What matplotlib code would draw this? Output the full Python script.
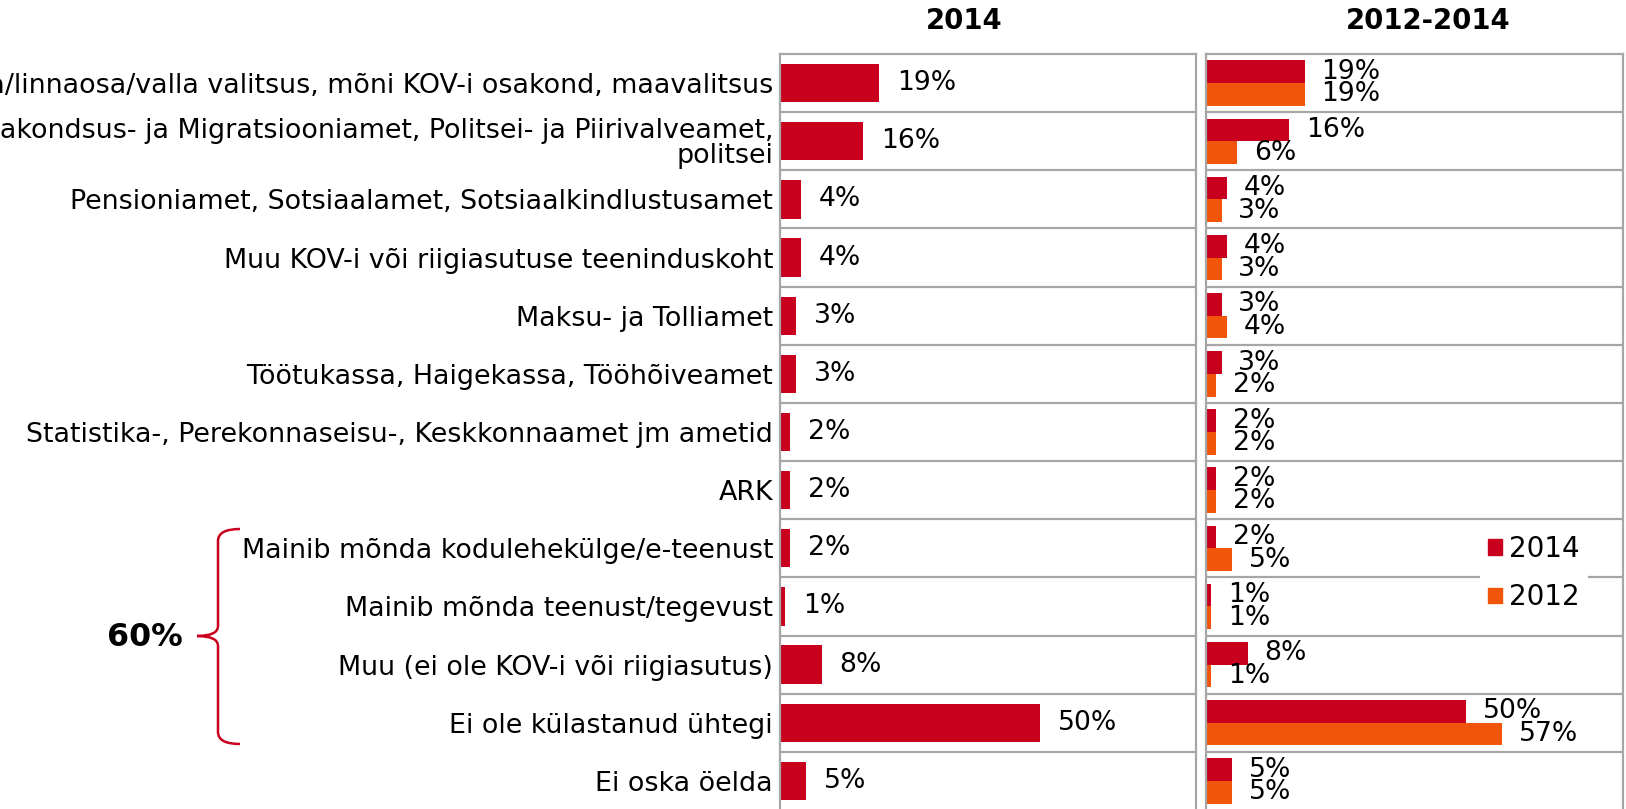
import matplotlib
matplotlib.use("Agg")
import matplotlib.pyplot as plt
from matplotlib.patches import Patch, PathPatch
from matplotlib.path import Path

plt.rcParams['font.family'] = ['DejaVu Sans']

categories = [
    "Linna/linnaosa/valla valitsus, mõni KOV-i osakond, maavalitsus",
    "Kodakondsus- ja Migratsiooniamet, Politsei- ja Piirivalveamet,\npolitsei",
    "Pensioniamet, Sotsiaalamet, Sotsiaalkindlustusamet",
    "Muu KOV-i või riigiasutuse teeninduskoht",
    "Maksu- ja Tolliamet",
    "Töötukassa, Haigekassa, Tööhõiveamet",
    "Statistika-, Perekonnaseisu-, Keskkonnaamet jm ametid",
    "ARK",
    "Mainib mõnda kodulehekülge/e-teenust",
    "Mainib mõnda teenust/tegevust",
    "Muu (ei ole KOV-i või riigiasutus)",
    "Ei ole külastanud ühtegi",
    "Ei oska öelda",
]
values_2014 = [19, 16, 4, 4, 3, 3, 2, 2, 2, 1, 8, 50, 5]
values_2012 = [19, 6, 3, 3, 4, 2, 2, 2, 5, 1, 1, 57, 5]
panel_titles = ["2014", "2012-2014"]
series_names = ["2014", "2012"]
bracket_label = "60%"

RED = "#C8001E"
ORANGE = "#F0550A"
GRID = "#A6A6A6"

W, H = 1626, 809
fig = plt.figure(figsize=(W / 100, H / 100), dpi=100)

def fx(px):
    return px / W

def fy(py):
    return 1 - py / H

top_px, bot_px = 54, 810
ax1 = fig.add_axes([fx(780), fy(bot_px), fx(1196) - fx(780), fy(top_px) - fy(bot_px)])
ax2 = fig.add_axes([fx(1206), fy(bot_px), fx(1623) - fx(1206), fy(top_px) - fy(bot_px)])

n = len(categories)
ys = list(range(n))

for ax in (ax1, ax2):
    ax.set_ylim(n - 0.5, -0.5)
    ax.set_xticks([])
    for s in ax.spines.values():
        s.set_color(GRID)
        s.set_linewidth(1.6)
    ax.spines['bottom'].set_visible(False)
    for i in range(n - 1):
        ax.axhline(i + 0.5, color=GRID, lw=1.6, zorder=0)

ax1.set_xlim(0, 416 / 5.2)
ax2.set_xlim(0, 417 / 5.2)

VAL_FS = 19.2

# left panel
b1 = ax1.barh(ys, values_2014, height=0.66, color=RED, zorder=2)
ax1.bar_label(b1, labels=[f"{v}%" for v in values_2014], padding=13, fontsize=VAL_FS)
ax1.set_yticks(ys)
ax1.set_yticklabels(categories, fontsize=19.4)
ax1.tick_params(axis='y', length=0, pad=5)
for t in ax1.get_yticklabels():
    t.set_linespacing(0.95)

# right panel
ys_a = [y - 0.195 for y in ys]
ys_b = [y + 0.195 for y in ys]
b2a = ax2.barh(ys_a, values_2014, height=0.39, color=RED, zorder=2)
b2b = ax2.barh(ys_b, values_2012, height=0.39, color=ORANGE, zorder=2)
ax2.bar_label(b2a, labels=[f"{v}%" for v in values_2014], padding=12, fontsize=VAL_FS)
ax2.bar_label(b2b, labels=[f"{v}%" for v in values_2012], padding=12, fontsize=VAL_FS)
ax2.set_yticks([])

leg = ax2.legend(handles=[Patch(color=RED, label=series_names[0]),
                          Patch(color=ORANGE, label=series_names[1])],
                 loc='center', bbox_to_anchor=(fx(1534), fy(573)),
                 bbox_transform=fig.transFigure, fontsize=20,
                 frameon=True, facecolor='white', edgecolor='none', framealpha=1,
                 handlelength=0.5, handleheight=0.5, handletextpad=0.25,
                 labelspacing=0.75, borderpad=0.3, fancybox=False)

# titles
fig.text(fx(964), fy(21), panel_titles[0], ha='center', va='center', fontsize=19.8, fontweight='bold')
fig.text(fx(1428), fy(21), panel_titles[1], ha='center', va='center', fontsize=19.8, fontweight='bold')

# bracket
pts = [(240, 529), (218, 529), (218, 541), (218, 626), (218, 636), (197, 636),
       (218, 636), (218, 646), (218, 732), (218, 744), (240, 744)]
codes = [Path.MOVETO, Path.CURVE3, Path.CURVE3, Path.LINETO, Path.CURVE3, Path.CURVE3,
         Path.CURVE3, Path.CURVE3, Path.LINETO, Path.CURVE3, Path.CURVE3]
path = Path([(fx(x), fy(y)) for x, y in pts], codes)
fig.add_artist(PathPatch(path, transform=fig.transFigure, fill=False, edgecolor=RED, lw=1.8))
fig.text(fx(145), fy(637), bracket_label, ha='center', va='center', fontsize=22.8, fontweight='bold')

fig.savefig("out.png", dpi=100)
